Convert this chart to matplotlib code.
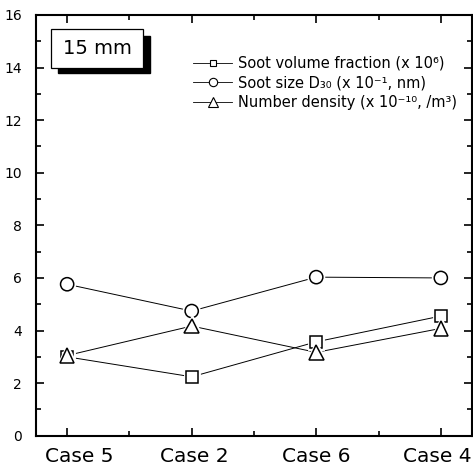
import matplotlib
matplotlib.use("Agg")
import matplotlib.pyplot as plt
import matplotlib.patheffects as pe
import matplotlib.transforms as mtransforms
from matplotlib.lines import Line2D
from matplotlib.patches import Rectangle
import numpy as np

plt.rcParams['font.family'] = ['DejaVu Sans']

# data
cases = ["Case 5", "Case 2", "Case 6", "Case 4"]
volume_fraction = [3.0, 2.24, 3.57, 4.55]
soot_size = [5.76, 4.74, 6.03, 6.0]
number_density = [3.05, 4.17, 3.17, 4.08]

labels = ["Soot volume fraction (x 10\u2076)",
          "Soot size D\u2083\u2080 (x 10\u207b\u00b9, nm)",
          "Number density (x 10\u207b\u00b9\u2070, /m\u00b3)"]
markers = ['s', 'o', '^']
sizes = [8.5, 9.5, 10.5]
legend_sizes = [5.0, 6.0, 7.0]
# small horizontal nudges of the case labels, as printed (pixels)
label_shift = [12, 3, 0, -4]


def main():
    fig = plt.figure(figsize=(4.73, 4.68), dpi=100)
    ax = fig.add_axes([0.0761, 0.0690, 0.9217, 0.8990])

    x = np.arange(len(cases))
    series = [volume_fraction, soot_size, number_density]

    handles = []
    for y, m, ms, lms, lab in zip(series, markers, sizes, legend_sizes, labels):
        ax.plot(x, y, color='k', lw=0.7, zorder=2)
        ax.plot(x, y, ls='none', marker=m, ms=ms, mfc='white', mec='k',
                mew=1.1, zorder=3,
                path_effects=[pe.Stroke(linewidth=3.5, foreground='white'),
                              pe.Normal()])
        handles.append(Line2D([], [], color='k', lw=0.6, marker=m, ms=lms,
                              mfc='white', mec='k', mew=0.8, label=lab))

    ax.set_xlim(-0.25, 3.25)
    ax.set_ylim(0, 16)
    ax.set_xticks(x)
    ax.set_xticklabels(cases, fontsize=14.5)
    ax.set_xticks(x[:-1] + 0.5, minor=True)
    ax.set_yticks(np.arange(0, 17, 2))
    ax.set_yticks(np.arange(1, 16, 2), minor=True)
    ax.tick_params(axis='y', labelsize=10)

    ax.tick_params(which='both', direction='in', top=True, right=True,
                   width=1.2, color='k')
    ax.tick_params(which='major', length=6)
    ax.tick_params(which='minor', length=3.5)
    ax.tick_params(axis='x', which='major', pad=8)
    ax.tick_params(axis='y', which='major', pad=10)
    for s in ax.spines.values():
        s.set_linewidth(1.5)

    for lbl, dx in zip(ax.get_xticklabels(), label_shift):
        lbl.set_transform(lbl.get_transform() +
                          mtransforms.ScaledTranslation(dx / 100, 0,
                                                        fig.dpi_scale_trans))

    # "15 mm" label box with drop shadow
    ax.add_patch(Rectangle((0.050, 0.862), 0.211, 0.088, transform=ax.transAxes,
                           facecolor='k', edgecolor='k', zorder=4))
    ax.add_patch(Rectangle((0.0344, 0.874), 0.211, 0.092, transform=ax.transAxes,
                           facecolor='white', edgecolor='k', lw=0.9, zorder=5))
    ax.text(0.14, 0.920, "15 mm", transform=ax.transAxes, fontsize=14,
            ha='center', va='center', zorder=6)

    ax.legend(handles=handles, loc='upper left',
              bbox_to_anchor=(0.36, 0.903), frameon=False, fontsize=10.5,
              handlelength=2.7, handletextpad=0.4, labelspacing=0.32,
              borderpad=0, borderaxespad=0)

    fig.savefig('out.png', dpi=100)


if __name__ == "__main__":
    main()
